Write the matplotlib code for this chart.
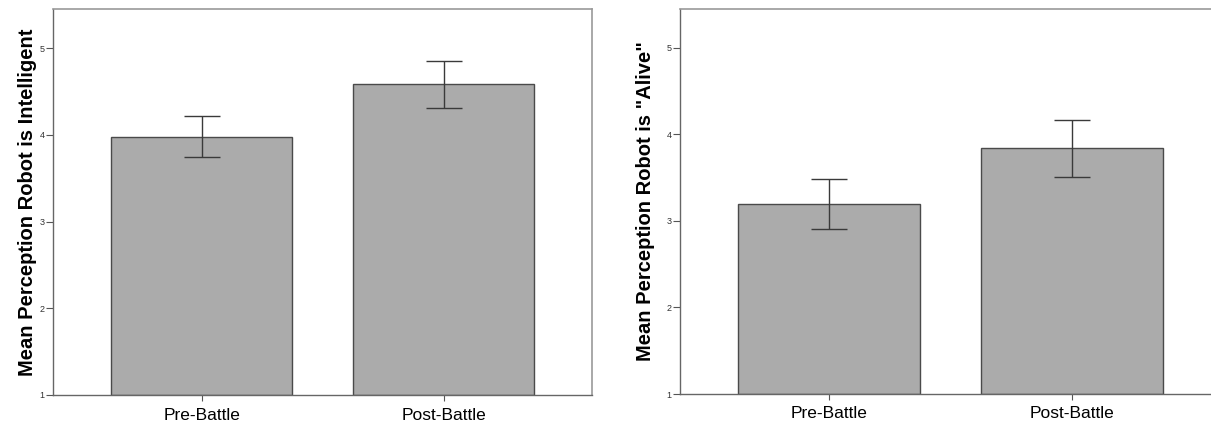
import matplotlib
matplotlib.use('Agg')
import matplotlib.pyplot as plt
import numpy as np

plt.rcParams['font.family'] = ['Liberation Sans', 'DejaVu Sans']

groups = ['Pre-Battle', 'Post-Battle']

# Mean perception robot is intelligent
intel_mean = [3.98, 4.58]
intel_low = [3.74, 4.31]
intel_high = [4.22, 4.85]

# Mean perception robot is "alive"
alive_mean = [3.20, 3.84]
alive_low = [2.91, 3.51]
alive_high = [3.49, 4.17]

fig = plt.figure(figsize=(12.11, 4.26), dpi=100)
ax1 = fig.add_axes([53 / 1211, 31 / 426, 539 / 1211, 386 / 426])
ax2 = fig.add_axes([680 / 1211, 32 / 426, 541 / 1211, 385 / 426])

panels = [
    (ax1, intel_mean, intel_low, intel_high, 'Mean Perception Robot is Intelligent', 16),
    (ax2, alive_mean, alive_low, alive_high, 'Mean Perception Robot is "Alive"', 25),
]

for ax, mean, low, high, ylab, pad in panels:
    x = np.arange(len(groups))
    ax.bar(x, np.array(mean) - 1, bottom=1, width=0.75, color='#ababab',
           edgecolor='#4a4a4a', linewidth=1.0, zorder=2)
    yerr = [np.array(mean) - np.array(low), np.array(high) - np.array(mean)]
    ax.errorbar(x, mean, yerr=yerr, fmt='none', ecolor='#3a3a3a',
                elinewidth=1.0, capsize=13, capthick=1.0, zorder=3)
    ax.set_xlim(-0.614, 1.613)
    ax.set_ylim(1, 5.45)
    ax.set_yticks([1, 2, 3, 4, 5])
    ax.set_xticks(x)
    ax.set_xticklabels(groups, fontsize=12.5)
    ax.tick_params(axis='y', labelsize=6.5, length=5, width=0.8, color='#555555',
                   labelcolor='#333333', pad=1)
    ax.tick_params(axis='x', length=4, width=0.8, color='#555555', pad=5)
    ax.set_ylabel(ylab, fontsize=14.5, fontweight='bold')
    ax.yaxis.set_label_coords(-pad / 539, 0.5)
    for side in ['top', 'right']:
        ax.spines[side].set_color('#999999')
        ax.spines[side].set_linewidth(1.2)
    for side in ['left', 'bottom']:
        ax.spines[side].set_color('#666666')
        ax.spines[side].set_linewidth(1.0)

fig.savefig('out.png', dpi=100)
